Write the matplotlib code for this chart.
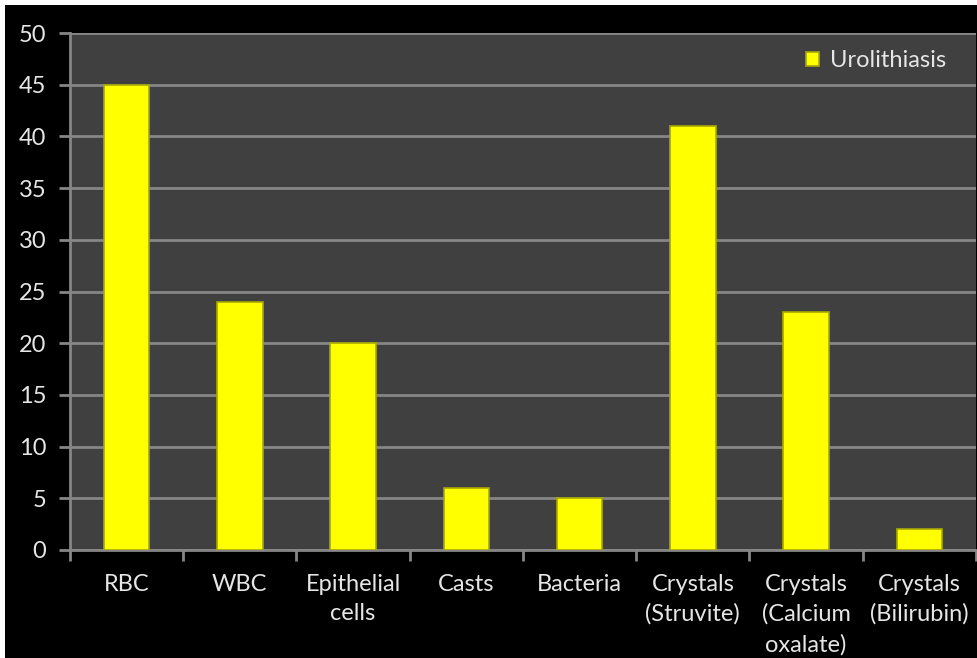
import numpy as np
import matplotlib.pyplot as plt
from matplotlib.patches import Rectangle

categories = ['RBC', 'WBC', 'Epithelial\ncells', 'Casts', 'Bacteria',
              'Crystals\n(Struvite)', 'Crystals\n(Calcium\noxalate)', 'Crystals\n(Bilirubin)']
values = [45, 24, 20, 6, 5, 41, 23, 2]
series_name = 'Urolithiasis'
y_ticks = [0, 5, 10, 15, 20, 25, 30, 35, 40, 45, 50]

text_color = '#e6e6e6'
grid_color = '#868686'

plt.rcParams['font.family'] = ['Lato', 'DejaVu Sans']

fig = plt.figure(figsize=(9.78, 6.58), dpi=100, facecolor='white')
# black chart area with a thin white margin at top/left
fig.patches.append(Rectangle((5 / 978, 0), 1, 1 - 5 / 658, transform=fig.transFigure,
                             facecolor='black', edgecolor='none', zorder=-1))

ax = fig.add_axes([70 / 978, 1 - 550 / 658, 906 / 978, 517 / 658])
ax.set_facecolor('#404040')

x = np.arange(len(categories))
ax.bar(x, values, width=0.4, color='#ffff00', edgecolor='#a8a800', linewidth=1.2,
       label=series_name, zorder=3)

ax.set_xlim(-0.5, len(categories) - 0.5)
ax.set_ylim(0, 50)
ax.set_yticks(y_ticks)
ax.yaxis.grid(True, color=grid_color, linewidth=2, zorder=0)
ax.set_axisbelow(True)

ax.set_xticks(x)
ax.set_xticklabels(categories, linespacing=1.5, va='top')
ax.set_xticks(np.arange(len(categories) + 1) - 0.5, minor=True)
ax.tick_params(axis='x', which='major', length=0, pad=17, labelsize=17, colors=text_color)
ax.tick_params(axis='x', which='minor', length=8, width=2, color=grid_color)
ax.tick_params(axis='y', length=8, width=2, color=grid_color, labelsize=17,
               labelcolor=text_color, pad=9)

for s in ['top', 'right']:
    ax.spines[s].set_visible(False)
for s in ['left', 'bottom']:
    ax.spines[s].set_color(grid_color)
    ax.spines[s].set_linewidth(2)

leg = ax.legend(loc='upper right', frameon=False, fontsize=17, handlelength=0.55,
                handleheight=0.55, handletextpad=0.45, bbox_to_anchor=(0.99, 1.008))
for t in leg.get_texts():
    t.set_color(text_color)

fig.savefig('out.png', dpi=100, facecolor=fig.get_facecolor())
